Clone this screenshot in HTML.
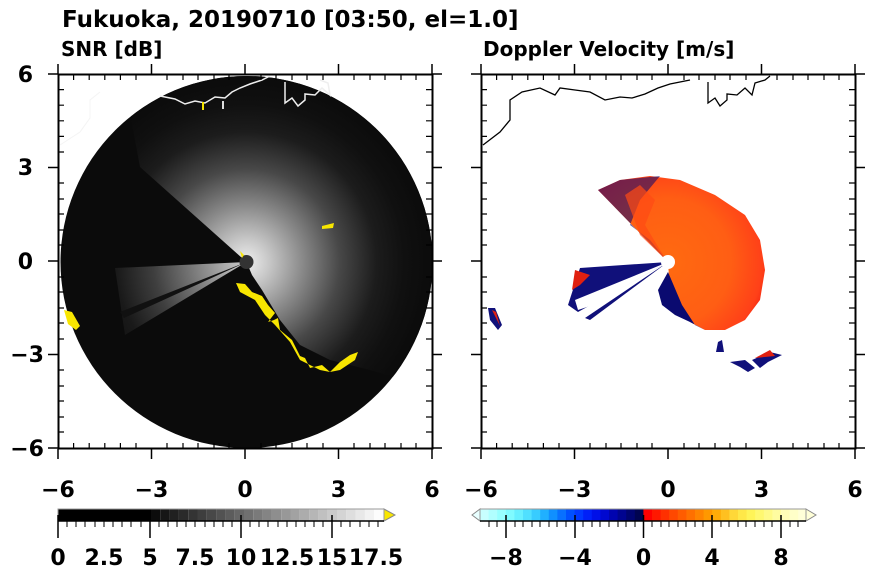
<!DOCTYPE html>
<html><head><meta charset="utf-8"><style>
html,body{margin:0;padding:0;background:#fff;}
svg{display:block;font-family:"DejaVu Sans","Liberation Sans",sans-serif;font-weight:bold;}
</style></head><body>
<svg width="870" height="570" viewBox="0 0 870 570" xmlns="http://www.w3.org/2000/svg">
<defs>
<radialGradient id="lit" cx="246.5" cy="262" r="186" gradientUnits="userSpaceOnUse">
<stop offset="0" stop-color="#eeeeee"/>
<stop offset="0.12" stop-color="#c8c8c8"/>
<stop offset="0.3" stop-color="#8a8a8a"/>
<stop offset="0.5" stop-color="#484848"/>
<stop offset="0.7" stop-color="#1c1c1c"/>
<stop offset="0.85" stop-color="#101010"/>
<stop offset="1" stop-color="#0b0b0b"/>
</radialGradient>
<radialGradient id="dop" cx="668" cy="262" r="105" gradientUnits="userSpaceOnUse">
<stop offset="0" stop-color="#ff6a10"/>
<stop offset="0.6" stop-color="#ff5e14"/>
<stop offset="0.9" stop-color="#ff4018"/>
<stop offset="1" stop-color="#f02010"/>
</radialGradient>
<clipPath id="cl"><circle cx="246.5" cy="262" r="186"/></clipPath>
</defs>

<text x="62" y="27" font-size="23">Fukuoka, 20190710 [03:50, el=1.0]</text>
<text x="61" y="56" font-size="20">SNR [dB]</text>
<text x="483" y="56" font-size="20">Doppler Velocity [m/s]</text>

<!-- LEFT PANEL -->
<circle cx="246.5" cy="262" r="186" fill="#0b0b0b"/>
<g clip-path="url(#cl)">
<path d="M246.5,262 L140,167 L120,60 L300,40 L470,120 L470,400 L370,370 L330,360 L300,345 L280,320 L262,290 L252,275 Z" fill="url(#lit)"/>
<path d="M246.5,262 L115,268 L125,335 Z" fill="url(#lit)" opacity="0.85"/>
<path d="M246.5,262 L120,312 L124,318 Z" fill="#111"/>
</g>
<circle cx="246.5" cy="262" r="7" fill="#333"/>
<path d="M236,283 L245,284 L252,292 L262,296 L268,305 L275,313 L268,322 L274,320 L278,318 L280,330 L292,340 L300,356 L305,358 L310,368 L322,365 L330,372 L340,362 L350,355 L358,352 L355,360 L340,370 L330,372 L320,370 L300,360 L290,342 L275,325 L265,315 L255,300 L240,292 Z" fill="#f8e600"/>
<path d="M64,310 L72,312 L80,326 L76,330 L68,324 Z" fill="#f8e600"/>
<path d="M322,226 L334,223 L333,228 L322,229 Z" fill="#f8e600"/>
<path d="M240,251 L244,255 L242,258 Z" fill="#f8e600"/>
<path d="M160,96 L175,99 L185,104 L195,101 L205,103 L215,97 L225,98 L232,92 L240,88 L250,84 L262,80 L270,76" fill="none" stroke="#eee" stroke-width="1.5"/>
<path d="M285,82 L285,103 L292,98 L298,106 L305,100 L305,94 L315,95 L322,88 L330,95 L328,83 L320,80" fill="none" stroke="#eee" stroke-width="1.5"/>
<path d="M60,145 L80,132 L90,118 L90,100 L100,92" fill="none" stroke="#f4f4f4" stroke-width="1"/>
<rect x="202" y="102" width="2" height="8" fill="#f8e600"/>
<rect x="222" y="101" width="2" height="8" fill="#ddd"/>

<!-- RIGHT PANEL -->
<path d="M598,190 L620,180 L650,176 L680,180 L715,195 L745,215 L760,240 L765,270 L760,300 L745,320 L725,330 L705,330 L690,322 L680,310 L670,292 L668,262 Z" fill="url(#dop)"/>
<path d="M598,190 L620,180 L660,176 L640,200 L630,225 L650,240 L668,262 Z" fill="#1a0c6a" opacity="0.6"/>
<path d="M625,195 L640,185 L655,200 L645,225 L660,250 L668,262 L640,235 Z" fill="#ff4a14" opacity="0.7"/>
<path d="M668,262 L580,268 L568,305 L578,312 Z" fill="#10107a"/>
<path d="M668,262 L575,300 L578,310 L590,306 Z" fill="#fff"/>
<path d="M668,262 L585,318 L590,320 Z" fill="#10107a"/>
<path d="M575,270 L590,275 L580,285 L572,290 Z" fill="#e02010"/>
<path d="M658,290 L668,272 L682,305 L695,325 L705,330 L690,322 L675,315 L662,305 Z" fill="#0a0a70"/>
<path d="M488,308 L495,308 L502,325 L498,330 L490,320 Z" fill="#10107a"/>
<path d="M492,310 L496,312 L500,326 Z" fill="#e02010"/>
<path d="M718,342 L722,340 L724,352 L716,352 Z" fill="#10107a"/>
<path d="M730,362 L745,360 L755,368 L748,372 L740,367 Z" fill="#10107a"/>
<path d="M752,360 L770,352 L782,355 L768,362 L760,368 Z" fill="#10107a"/>
<path d="M755,358 L770,350 L775,356 Z" fill="#e02010"/>
<circle cx="668" cy="262" r="7" fill="#fff"/>
<path d="M483,145 L500,132 L510,120 L510,100 L522,92 L540,88 L555,95 L560,88 L575,90 L590,92 L605,100 L620,97 L632,98 L645,94 L658,88 L670,84 L690,80" fill="none" stroke="#000" stroke-width="1.3"/>
<path d="M708,82 L708,103 L715,98 L720,106 L727,100 L727,94 L737,95 L745,88 L752,95 L755,83 L765,80 L770,76" fill="none" stroke="#000" stroke-width="1.3"/>

<g stroke="#000" fill="none">
<rect x="58.5" y="74.5" width="374" height="374" stroke-width="2"/>
<rect x="481.5" y="74.5" width="374" height="374" stroke-width="2"/>
</g>
<g stroke="#000" stroke-width="1.5">
<path d="
M58,74v-10M151.5,74v-10M245,74v-10M338.5,74v-10M432,74v-10
M58,449v10M151.5,449v10M245,449v10M338.5,449v10M432,449v10
M58,74h-10M58,167.5h-10M58,261h-10M58,354.5h-10M58,448h-10
M432,74h10M432,167.5h10M432,261h10M432,354.5h10M432,448h10
M481,74v-10M574.5,74v-10M668,74v-10M761.5,74v-10M855,74v-10
M481,449v10M574.5,449v10M668,449v10M761.5,449v10M855,449v10
M481,74h-10M481,167.5h-10M481,261h-10M481,354.5h-10M481,448h-10
M855,74h10M855,167.5h10M855,261h10M855,354.5h10M855,448h10
"/>
<path stroke-width="1.2" d="
M73.6,74v6M89.2,74v6M104.8,74v6M120.4,74v6M136,74v6M167,74v6M183,74v6M198,74v6M214,74v6M229,74v6M261,74v6M276,74v6M292,74v6M307,74v6M323,74v6M354,74v6M370,74v6M385,74v6M401,74v6M416,74v6
M73.6,449v-6M89.2,449v-6M104.8,449v-6M120.4,449v-6M136,449v-6M167,449v-6M183,449v-6M198,449v-6M214,449v-6M229,449v-6M261,449v-6M276,449v-6M292,449v-6M307,449v-6M323,449v-6M354,449v-6M370,449v-6M385,449v-6M401,449v-6M416,449v-6
M58,89.6h6M58,105.2h6M58,120.8h6M58,136.4h6M58,152h6M58,183h6M58,199h6M58,214h6M58,230h6M58,245h6M58,277h6M58,292h6M58,308h6M58,323h6M58,339h6M58,370h6M58,386h6M58,401h6M58,417h6M58,432h6
M432,89.6h-6M432,105.2h-6M432,120.8h-6M432,136.4h-6M432,152h-6M432,183h-6M432,199h-6M432,214h-6M432,230h-6M432,245h-6M432,277h-6M432,292h-6M432,308h-6M432,323h-6M432,339h-6M432,370h-6M432,386h-6M432,401h-6M432,417h-6M432,432h-6
M496.6,74v6M512.2,74v6M527.8,74v6M543.4,74v6M559,74v6M590,74v6M606,74v6M621,74v6M637,74v6M652,74v6M684,74v6M699,74v6M715,74v6M730,74v6M746,74v6M777,74v6M793,74v6M808,74v6M824,74v6M839,74v6
M496.6,449v-6M512.2,449v-6M527.8,449v-6M543.4,449v-6M559,449v-6M590,449v-6M606,449v-6M621,449v-6M637,449v-6M652,449v-6M684,449v-6M699,449v-6M715,449v-6M730,449v-6M746,449v-6M777,449v-6M793,449v-6M808,449v-6M824,449v-6M839,449v-6
M481,89.6h6M481,105.2h6M481,120.8h6M481,136.4h6M481,152h6M481,183h6M481,199h6M481,214h6M481,230h6M481,245h6M481,277h6M481,292h6M481,308h6M481,323h6M481,339h6M481,370h6M481,386h6M481,401h6M481,417h6M481,432h6
M855,89.6h-6M855,105.2h-6M855,120.8h-6M855,136.4h-6M855,152h-6M855,183h-6M855,199h-6M855,214h-6M855,230h-6M855,245h-6M855,277h-6M855,292h-6M855,308h-6M855,323h-6M855,339h-6M855,370h-6M855,386h-6M855,401h-6M855,417h-6M855,432h-6
"/>
</g>
<g font-size="22" text-anchor="middle">
<text x="58" y="497">−6</text><text x="151.5" y="497">−3</text><text x="245" y="497">0</text><text x="338.5" y="497">3</text><text x="432" y="497">6</text>
<text x="481" y="497">−6</text><text x="574.5" y="497">−3</text><text x="668" y="497">0</text><text x="761.5" y="497">3</text><text x="855" y="497">6</text>
</g>
<g font-size="22" text-anchor="end">
<text x="33" y="82">6</text><text x="33" y="175">3</text><text x="33" y="269">0</text><text x="44" y="362">−3</text><text x="44" y="456">−6</text>
</g>

<g>
<rect x="58" y="509" width="93" height="12" fill="#000"/>
<rect x="151" y="509" width="9.3" height="12" fill="#0c0c0c"/><rect x="160.3" y="509" width="9.3" height="12" fill="#161616"/><rect x="169.6" y="509" width="9.3" height="12" fill="#202020"/><rect x="178.9" y="509" width="9.3" height="12" fill="#2a2a2a"/><rect x="188.2" y="509" width="9.3" height="12" fill="#343434"/><rect x="197.5" y="509" width="9.3" height="12" fill="#3e3e3e"/><rect x="206.8" y="509" width="9.3" height="12" fill="#484848"/><rect x="216.1" y="509" width="9.3" height="12" fill="#525252"/><rect x="225.4" y="509" width="9.3" height="12" fill="#5c5c5c"/><rect x="234.7" y="509" width="9.3" height="12" fill="#666"/><rect x="244" y="509" width="9.3" height="12" fill="#707070"/><rect x="253.3" y="509" width="9.3" height="12" fill="#7a7a7a"/><rect x="262.6" y="509" width="9.3" height="12" fill="#848484"/><rect x="271.9" y="509" width="9.3" height="12" fill="#8e8e8e"/><rect x="281.2" y="509" width="9.3" height="12" fill="#989898"/><rect x="290.5" y="509" width="9.3" height="12" fill="#a2a2a2"/><rect x="299.8" y="509" width="9.3" height="12" fill="#acacac"/><rect x="309.1" y="509" width="9.3" height="12" fill="#b6b6b6"/><rect x="318.4" y="509" width="9.3" height="12" fill="#c0c0c0"/><rect x="327.7" y="509" width="9.3" height="12" fill="#cacaca"/><rect x="337" y="509" width="9.3" height="12" fill="#d4d4d4"/><rect x="346.3" y="509" width="9.3" height="12" fill="#dedede"/><rect x="355.6" y="509" width="9.3" height="12" fill="#e8e8e8"/><rect x="364.9" y="509" width="9.3" height="12" fill="#f2f2f2"/><rect x="374.2" y="509" width="9.8" height="12" fill="#fcfcfc"/>
<path d="M384,509 L395,515 L384,521 Z" fill="#f8e600" stroke="#888" stroke-width="1"/>
<rect x="58" y="509" width="326" height="12" fill="none" stroke="#999" stroke-width="1"/>
<path stroke="#000" stroke-width="1.5" d="M58,515v23M150,515v23M241,515v23M332,515v23M58,521h326"/>
<path stroke="#000" stroke-width="1" d="M67,521v6M76,521v6M85,521v6M95,521v6M104,521v6M113,521v6M122,521v6M131,521v6M141,521v6M159,521v6M168,521v6M177,521v6M186,521v6M195,521v6M205,521v6M214,521v6M223,521v6M232,521v6M250,521v6M259,521v6M268,521v6M278,521v6M287,521v6M296,521v6M305,521v6M314,521v6M323,521v6M341,521v6M350,521v6M360,521v6M369,521v6M378,521v6"/>
<g font-size="22" text-anchor="middle"><text x="58" y="565">0</text><text x="104" y="565">2.5</text><text x="150" y="565">5</text><text x="195" y="565">7.5</text><text x="241" y="565">10</text><text x="287" y="565">12.5</text><text x="332" y="565">15</text><text x="376" y="565">17.5</text></g>
</g>

<g>
<path d="M480,509 L472,515 L480,521 Z" fill="#e8ffff" stroke="#888"/>
<path d="M806,509 L816,515 L806,521 Z" fill="#ffffd8" stroke="#888"/>
<rect x="480" y="509" width="9" height="12" fill="#c8ffff"/><rect x="488.6" y="509" width="9" height="12" fill="#b0ffff"/><rect x="497.2" y="509" width="9" height="12" fill="#98ffff"/><rect x="505.8" y="509" width="9" height="12" fill="#80fbff"/><rect x="514.4" y="509" width="9" height="12" fill="#68f0ff"/><rect x="523" y="509" width="9" height="12" fill="#50e0ff"/><rect x="531.6" y="509" width="9" height="12" fill="#38ccff"/><rect x="540.2" y="509" width="9" height="12" fill="#20b0ff"/><rect x="548.8" y="509" width="9" height="12" fill="#1090ff"/><rect x="557.4" y="509" width="9" height="12" fill="#0870ff"/><rect x="566" y="509" width="9" height="12" fill="#0050ff"/><rect x="574.6" y="509" width="9" height="12" fill="#0038ff"/><rect x="583.2" y="509" width="9" height="12" fill="#0020f8"/><rect x="591.8" y="509" width="9" height="12" fill="#0010e8"/><rect x="600.4" y="509" width="9" height="12" fill="#0008d0"/><rect x="609" y="509" width="9" height="12" fill="#0004b0"/><rect x="617.6" y="509" width="9" height="12" fill="#000490"/><rect x="626.2" y="509" width="9" height="12" fill="#000470"/><rect x="634.8" y="509" width="8.7" height="12" fill="#000450"/>
<rect x="643.4" y="509" width="9" height="12" fill="#ff0000"/><rect x="652" y="509" width="9" height="12" fill="#ff1800"/><rect x="660.6" y="509" width="9" height="12" fill="#ff3000"/><rect x="669.2" y="509" width="9" height="12" fill="#ff4800"/><rect x="677.8" y="509" width="9" height="12" fill="#ff5c00"/><rect x="686.4" y="509" width="9" height="12" fill="#ff7000"/><rect x="695" y="509" width="9" height="12" fill="#ff8400"/><rect x="703.6" y="509" width="9" height="12" fill="#ff9800"/><rect x="712.2" y="509" width="9" height="12" fill="#ffac08"/><rect x="720.8" y="509" width="9" height="12" fill="#ffc020"/><rect x="729.4" y="509" width="9" height="12" fill="#ffd838"/><rect x="738" y="509" width="9" height="12" fill="#ffe848"/><rect x="746.6" y="509" width="9" height="12" fill="#fff458"/><rect x="755.2" y="509" width="9" height="12" fill="#fff870"/><rect x="763.8" y="509" width="9" height="12" fill="#fffa88"/><rect x="772.4" y="509" width="9" height="12" fill="#fffca0"/><rect x="781" y="509" width="9" height="12" fill="#fffdb8"/><rect x="789.6" y="509" width="9" height="12" fill="#ffffc8"/><rect x="798.2" y="509" width="8" height="12" fill="#ffffd8"/>
<rect x="480" y="509" width="326" height="12" fill="none" stroke="#999" stroke-width="1"/>
<path stroke="#000" stroke-width="1.5" d="M506,515v23M575,515v23M643.5,515v23M712,515v23M781,515v23M480,521h326"/>
<path stroke="#000" stroke-width="1" d="M489,521v6M497,521v6M515,521v6M523,521v6M532,521v6M540,521v6M549,521v6M557,521v6M566,521v6M583,521v6M592,521v6M600,521v6M609,521v6M618,521v6M626,521v6M635,521v6M652,521v6M661,521v6M669,521v6M678,521v6M686,521v6M695,521v6M703,521v6M721,521v6M729,521v6M738,521v6M746,521v6M755,521v6M764,521v6M772,521v6M790,521v6M798,521v6"/>
<g font-size="22" text-anchor="middle"><text x="506" y="565">−8</text><text x="575" y="565">−4</text><text x="643.5" y="565">0</text><text x="712" y="565">4</text><text x="781" y="565">8</text></g>
</g>
</svg>
</body></html>
